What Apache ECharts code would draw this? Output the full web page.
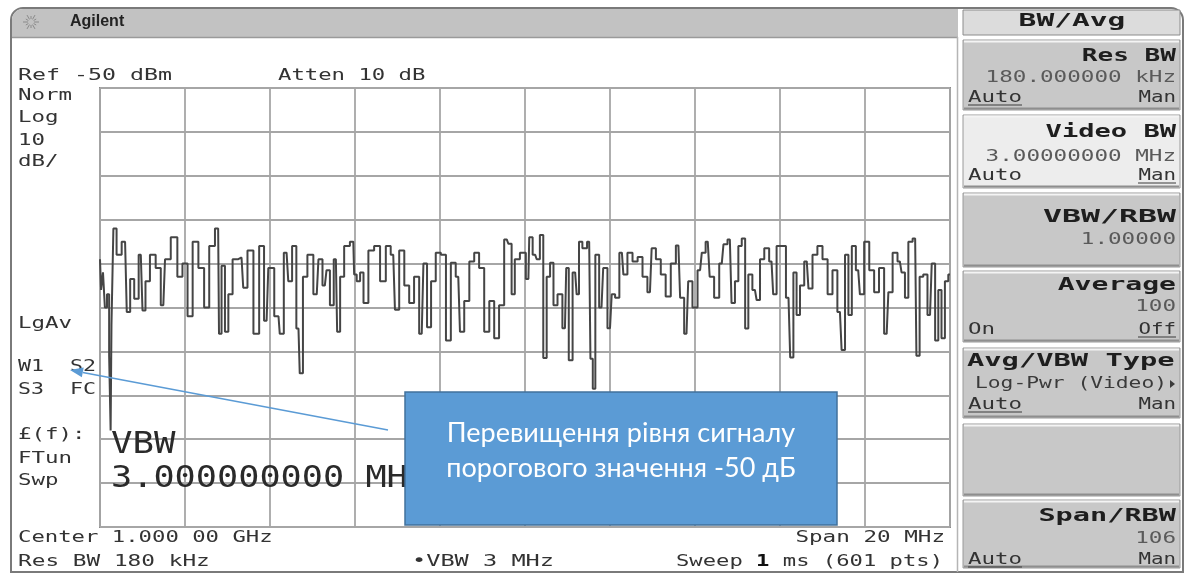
<!DOCTYPE html>
<html>
<head>
<meta charset="utf-8">
<script src="https://cdn.jsdelivr.net/npm/echarts@6/dist/echarts.min.js"></script>
<style>
html,body{margin:0;padding:0;background:#fff;}
#c{width:1191px;height:574px;}
</style>
</head>
<body>
<div id="c"></div>
<script>
// ---- Data (frequency offset from 1.000 00 GHz centre, MHz; level, dBm) ----
const freqMHz = [
-10.00,-9.95,-9.91,-9.86,-9.81,-9.76,-9.74,-9.72,-9.65,-9.57,-9.41,-9.33,-9.25,-9.14,-9.04,-8.96,-8.90,-8.75,-8.63,-8.51,
-8.43,-8.24,-8.12,-8.00,-7.88,-7.76,-7.61,-7.49,-7.37,-7.22,-7.18,-7.10,-7.02,-6.94,-6.82,-6.67,-6.59,-6.47,-6.31,-6.20,
-6.08,-6.00,-5.80,-5.74,-5.61,-5.53,-5.43,-5.33,-5.27,-5.18,-5.06,-4.90,-4.82,-4.71,-4.63,-4.55,-4.45,-4.39,-4.31,-4.20,
-4.04,-4.00,-3.92,-3.84,-3.76,-3.61,-3.49,-3.33,-3.22,-3.10,-3.02,-2.90,-2.78,-2.67,-2.55,-2.43,-2.35,-2.26,-2.16,-2.04,
-1.92,-1.80,-1.69,-1.57,-1.49,-1.37,-1.25,-1.14,-1.02,-0.90,-0.78,-0.67,-0.55,-0.43,-0.35,-0.28,-0.20,-0.04,0.08,0.12,
0.24,0.31,0.39,0.47,0.55,0.63,0.71,0.82,0.94,1.00,1.06,1.18,1.25,1.29,1.41,1.51,1.57,1.62,1.69,1.80,
1.88,2.00,2.08,2.16,2.28,2.35,2.47,2.59,2.71,2.82,2.94,3.02,3.14,3.25,3.37,3.49,3.61,3.69,3.80,3.88,
4.00,4.12,4.20,4.30,4.39,4.51,4.63,4.71,4.82,4.90,4.98,5.06,5.14,5.22,5.29,5.41,5.49,5.57,5.69,5.80,
5.88,5.96,6.08,6.20,6.28,6.35,6.43,6.51,6.63,6.71,6.82,6.94,7.06,7.18,7.29,7.41,7.49,7.57,7.65,7.73,
7.84,7.92,8.04,8.16,8.27,8.39,8.51,8.59,8.71,8.82,8.90,8.98,9.06,9.18,9.24,9.33,9.41,9.53,9.61,9.69,
9.76,9.84,9.92,10.00
];
const levelDbm = [
-89,-96,-92,-100,-97,-111,-128,-104,-82,-88,-85,-101,-93.5,-98,-88,-100.7,-94,-88,-91,-99.5,
-89,-84,-93,-90,-102,-85,-91,-100,-86,-82,-106,-90.5,-105.5,-97,-89,-88.6,-95.5,-87,-106,-86,
-103,-91,-102,-106,-87.5,-94,-86,-104.8,-115,-93,-88,-97,-89,-95,-91.5,-99.5,-89,-105.5,-93,-86,
-85,-92.5,-94,-92,-99,-87,-86,-94,-86,-88,-100.5,-87,-95,-99,-93,-106,-90,-104.5,-94,-87.5,
-88,-107.5,-89.8,-93,-105.5,-98.5,-89.5,-87.5,-91,-105.5,-98.5,-107,-99.5,-84.5,-85.5,-97,-89,-87.5,-93.5,-84,
-88,-89,-83.5,-111.5,-93,-89.8,-99.5,-97,-104.7,-91,-112,-92,-97,-85,-86.5,-85,-111.7,-118.5,-88,-100,
-91,-104.7,-97,-97.8,-87.5,-92.5,-87.5,-89.5,-88.5,-93,-96.5,-86.5,-89,-92.5,-97.5,-90,-85.9,-97.8,-106,-94,
-100,-91.5,-87.5,-85,-93,-97.8,-90,-85.6,-84.5,-99,-94,-86,-84.3,-104.8,-92.5,-96,-98.3,-89,-86.5,-89.5,
-97,-86,-86,-97.8,-111.4,-92,-101.7,-95,-89.5,-95.7,-88,-86,-89,-97,-91.5,-101,-109.7,-88,-101.7,-86,
-91.5,-97,-85,-91.5,-96.5,-91,-106,-96.5,-87.5,-89.5,-92,-97.8,-85,-84.3,-111,-93,-92.5,-101.7,-90,-107.5,
-96,-107,-94,-92.5
];
// Axis settings
const refLevelDbm = -50;
const dbPerDiv = 10;
const divisions = 10;
const spanMHz = 20;

// ---- Screen texts ----
const leftLabels = ["Norm","Log","10","dB/"];
const statusLabels = ["LgAv","W1  S2","S3  FC","£(f):","FTun","Swp"];

const chart = echarts.init(document.getElementById('c'), null, {renderer:'canvas'});
const MONO = '"DejaVu Sans Mono", "Liberation Mono", monospace';
function mono(t, x, y, o) {
  o = o || {};
  const size = o.size || 16;
  const adv = o.adv || 13.5;
  const weight = o.bold ? 'bold ' : '';
  return {
    type:'text', x:x, y:y, z: o.z || 100,
    scaleX: adv / (0.602 * size),
    style:{
      text:t, font: weight + size + 'px ' + MONO,
      fill: o.fill || '#333333',
      textAlign: o.align || 'left', align: o.align || 'left',
      textVerticalAlign:'middle', verticalAlign:'middle',
      rich: o.rich
    }
  };
}
function hline(x1, x2, y, color, w, z) {
  return {type:'line', z: z||100, shape:{x1:x1,y1:y,x2:x2,y2:y}, style:{stroke:color, lineWidth:w||1}};
}
function vline(x, y1, y2, color, w, z) {
  return {type:'line', z: z||100, shape:{x1:x,y1:y1,x2:x,y2:y2}, style:{stroke:color, lineWidth:w||1}};
}

const g = [];
// Outer frame
g.push({type:'rect', z:1, shape:{x:11, y:8, width:1172, height:564, r:[12,12,0,0]}, style:{fill:'#fff', stroke:'#7a7a7a', lineWidth:2}});
// Title bar
g.push({type:'rect', z:2, shape:{x:12, y:9, width:946, height:28, r:[11,0,0,0]}, style:{fill:'#c2c2c2'}});
g.push(hline(12, 958, 37.5, '#9a9a9a', 1.5, 3));
g.push(vline(957.5, 37, 572, '#b5b5b5', 1.5, 3));
// Agilent icon
(function(){
  const cx = 31, cy = 22;
  for (let i = 0; i < 12; i++) {
    const a = i * Math.PI / 6;
    const r1 = 3, r2 = (i % 2 ? 6 : 8);
    g.push({type:'line', z:4, shape:{x1:cx+r1*Math.cos(a), y1:cy+r1*Math.sin(a), x2:cx+r2*Math.cos(a), y2:cy+r2*Math.sin(a)}, style:{stroke:'#8a8a8a', lineWidth:1}});
  }
})();
g.push({type:'text', x:70, y:22, z:4, style:{text:'Agilent', font:'bold 16px "Liberation Sans", Arial, sans-serif', fill:'#222', textVerticalAlign:'middle', verticalAlign:'middle'}});

// Main-screen annotations
g.push(mono('Ref -50 dBm', 18, 76, {adv:14}));
g.push(mono('Atten 10 dB', 278, 76, {adv:13.4}));
const leftY = [96, 118, 141, 162];
leftLabels.forEach((t,i)=>g.push(mono(t, 18, leftY[i])));
const statY = [324, 367, 390, 435, 459, 481];
statusLabels.forEach((t,i)=>g.push(mono(t, 18, statY[i], {adv: (t==='W1  S2'||t==='S3  FC') ? 13 : 13.5})));
g.push(mono('VBW', 111, 445, {size:30, adv:21.5, fill:'#2a2a2a', z:20}));
g.push(mono('3.000000000 MHz', 111, 479, {size:30, adv:21.2, fill:'#2a2a2a', z:20}));
g.push(mono('Center 1.000 00 GHz', 18, 538, {adv:13.4}));
g.push(mono('Res BW 180 kHz', 18, 562, {adv:13.7}));
g.push(mono('\u2022VBW 3 MHz', 412, 562, {adv:14.2}));
g.push(mono('Span 20 MHz', 945, 538, {adv:13.6, align:'right'}));
g.push(mono('Sweep {b|1} ms (601 pts)', 943, 562, {adv:13.35, align:'right', rich:{b:{font:'bold 16px ' + MONO, fill:'#111'}}}));

// Soft-key panel
g.push({type:'rect', z:5, shape:{x:963, y:10, width:217, height:25}, style:{fill:'#dcdcdc', stroke:'#8c8c8c', lineWidth:1}});
g.push(mono('BW/Avg', 1072, 22, {bold:true, size:17, adv:17.8, align:'center', fill:'#1e1e1e', z:6}));
const keys = [
  {y:40, h:70, fill:'#c8c8c8'},
  {y:115, h:73, fill:'#ededed'},
  {y:193, h:74, fill:'#c8c8c8'},
  {y:271, h:71, fill:'#c8c8c8'},
  {y:348, h:70, fill:'#c8c8c8'},
  {y:424, h:72, fill:'#c8c8c8'},
  {y:500, h:68, fill:'#c8c8c8'}
];
keys.forEach(k=>{
  g.push({type:'rect', z:5, shape:{x:963, y:k.y, width:217, height:k.h}, style:{fill:k.fill, stroke:'#9a9a9a', lineWidth:1}});
  g.push(hline(964, 1179, k.y+1.5, '#f4f4f4', 2, 6));
  g.push(hline(964, 1179, k.y+k.h-1.5, '#8e8e8e', 2, 6));
});
const KB = {bold:true, size:17, align:'right', fill:'#1e1e1e', z:7};
const KV = {size:16, adv:13.6, align:'right', fill:'#5a5a5a', z:7};
const KL = {size:16, adv:13.5, fill:'#333333', z:7};
function under(x1, x2, y) { g.push(hline(x1, x2, y, '#3a3a3a', 1.2, 7)); }
g.push(mono('Res BW', 1176, 57, Object.assign({}, KB, {adv:15.7})));
g.push(mono('180.000000 kHz', 1176, 78, KV));
g.push(mono('Auto', 968, 98, KL)); under(968, 1022, 105);
g.push(mono('Man', 1176, 98, Object.assign({}, KL, {align:'right', adv:12.5})));
g.push(mono('Video BW', 1176, 133, Object.assign({}, KB, {adv:16.3})));
g.push(mono('3.00000000 MHz', 1176, 157, KV));
g.push(mono('Auto', 968, 176, KL));
g.push(mono('Man', 1176, 176, Object.assign({}, KL, {align:'right', adv:12.5}))); under(1138, 1176, 183);
g.push(mono('VBW/RBW', 1176, 218, Object.assign({}, KB, {adv:19})));
g.push(mono('1.00000', 1176, 240, KV));
g.push(mono('Average', 1176, 286, Object.assign({}, KB, {adv:16.9})));
g.push(mono('100', 1176, 307, KV));
g.push(mono('On', 968, 330, KL));
g.push(mono('Off', 1176, 330, Object.assign({}, KL, {align:'right', adv:12.5}))); under(1138, 1176, 337);
g.push(mono('Avg/VBW Type', 967, 362, Object.assign({}, KB, {align:'left', adv:17.3})));
g.push(mono('Log-Pwr (Video)', 975, 384, Object.assign({}, KV, {align:'left', adv:12.8, fill:'#3a3a3a'})));
g.push({type:'polygon', z:7, shape:{points:[[1170,380],[1170,388],[1175,384]]}, style:{fill:'#3a3a3a'}});
g.push(mono('Auto', 968, 405, KL)); under(968, 1022, 412);
g.push(mono('Man', 1176, 405, Object.assign({}, KL, {align:'right', adv:12.5})));
g.push(mono('Span/RBW', 1176, 517, Object.assign({}, KB, {adv:17.2})));
g.push(mono('106', 1176, 539, KV));
g.push(mono('Auto', 968, 560, KL)); under(968, 1022, 567);
g.push(mono('Man', 1176, 560, Object.assign({}, KL, {align:'right', adv:12.5})));

// Callout box
g.push({type:'rect', z:110, shape:{x:405, y:392, width:432, height:133}, style:{fill:'#5b9bd5', stroke:'#41719c', lineWidth:1.5}});
g.push({type:'text', z:111, x:621, y:433, style:{text:'Перевищення рівня сигналу', font:'27px Lato, "Noto Sans", sans-serif', fill:'#ffffff', textAlign:'center', align:'center', textVerticalAlign:'middle', verticalAlign:'middle'}});
g.push({type:'text', z:111, x:621, y:468, style:{text:'порогового значення -50 дБ', font:'27px Lato, "Noto Sans", sans-serif', fill:'#ffffff', textAlign:'center', align:'center', textVerticalAlign:'middle', verticalAlign:'middle'}});
// Arrow
(function(){
  const sx = 388, sy = 430, tx = 70, ty = 370;
  const dx = tx - sx, dy = ty - sy, L = Math.hypot(dx, dy);
  const ux = dx / L, uy = dy / L;
  const bx = tx - 13 * ux, by = ty - 13 * uy;
  const px = -uy * 5, py = ux * 5;
  g.push({type:'line', z:105, shape:{x1:sx, y1:sy, x2:bx, y2:by}, style:{stroke:'#5b9bd5', lineWidth:1.5}});
  g.push({type:'polygon', z:105, shape:{points:[[tx,ty],[bx+px,by+py],[bx-px,by-py]]}, style:{fill:'#5b9bd5'}});
})();

const splitStyle = {show:true, lineStyle:{color:'#a6a6a6', width:1.8}};
const option = {
  animation:false,
  backgroundColor:'#ffffff',
  grid:{left:100, top:88, width:850, height:439, show:true, borderColor:'#8a8a8a', borderWidth:2, backgroundColor:'rgba(0,0,0,0)', z:10},
  xAxis:{type:'value', min:-spanMHz/2, max:spanMHz/2, interval:2, axisLine:{show:false}, axisTick:{show:false}, axisLabel:{show:false}, splitLine:splitStyle, z:10},
  yAxis:{type:'value', min:refLevelDbm - dbPerDiv*divisions, max:refLevelDbm, interval:dbPerDiv, axisLine:{show:false}, axisTick:{show:false}, axisLabel:{show:false}, splitLine:splitStyle, z:10},
  series:[{
    type:'line', z:30, step:'middle', showSymbol:false, symbol:'none',
    data: freqMHz.map((f,i)=>[f, levelDbm[i]]),
    lineStyle:{color:'#454545', width:2}
  }],
  graphic:{elements:g}
};
chart.setOption(option);
</script>
</body>
</html>
